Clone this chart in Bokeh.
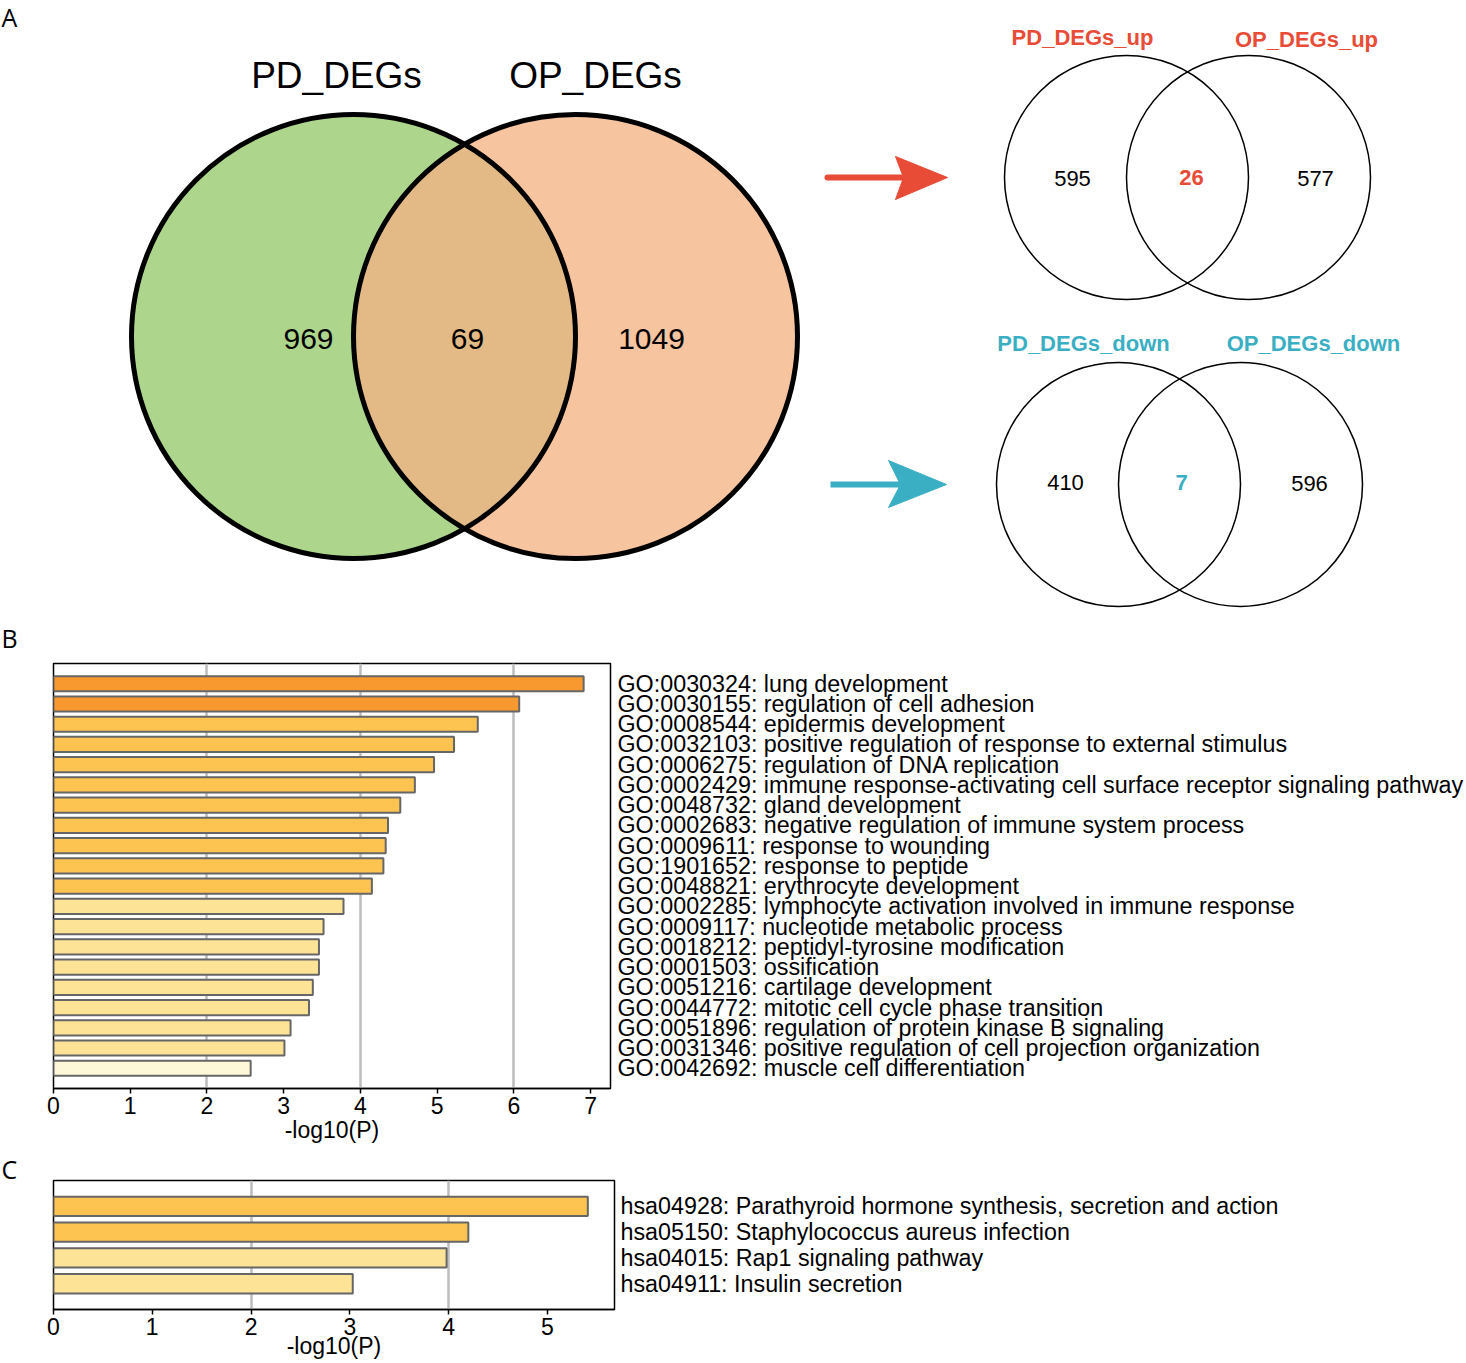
import numpy as np
from bokeh.plotting import figure
from bokeh.models import Range1d, FactorRange, FixedTicker
from bokeh.core.properties import value
from bokeh.embed import file_html
from bokeh.resources import INLINE

# ---------------- data ----------------
main_sets = ["PD_DEGs", "OP_DEGs"]
main_counts = [969, 69, 1049]          # left only, shared, right only
up_sets = ["PD_DEGs_up", "OP_DEGs_up"]
up_counts = [595, 26, 577]
down_sets = ["PD_DEGs_down", "OP_DEGs_down"]
down_counts = [410, 7, 596]

go_terms = [
    "GO:0030324: lung development",
    "GO:0030155: regulation of cell adhesion",
    "GO:0008544: epidermis development",
    "GO:0032103: positive regulation of response to external stimulus",
    "GO:0006275: regulation of DNA replication",
    "GO:0002429: immune response-activating cell surface receptor signaling pathway",
    "GO:0048732: gland development",
    "GO:0002683: negative regulation of immune system process",
    "GO:0009611: response to wounding",
    "GO:1901652: response to peptide",
    "GO:0048821: erythrocyte development",
    "GO:0002285: lymphocyte activation involved in immune response",
    "GO:0009117: nucleotide metabolic process",
    "GO:0018212: peptidyl-tyrosine modification",
    "GO:0001503: ossification",
    "GO:0051216: cartilage development",
    "GO:0044772: mitotic cell cycle phase transition",
    "GO:0051896: regulation of protein kinase B signaling",
    "GO:0031346: positive regulation of cell projection organization",
    "GO:0042692: muscle cell differentiation",
]
go_logp = [6.91, 6.07, 5.53, 5.22, 4.96, 4.71, 4.52, 4.36, 4.33, 4.30,
           4.15, 3.78, 3.52, 3.46, 3.46, 3.38, 3.33, 3.09, 3.01, 2.57]

kegg_terms = [
    "hsa04928: Parathyroid hormone synthesis, secretion and action",
    "hsa05150: Staphylococcus aureus infection",
    "hsa04015: Rap1 signaling pathway",
    "hsa04911: Insulin secretion",
]
kegg_logp = [5.41, 4.20, 3.98, 3.03]

panel_letters = ["A", "B", "C"]

# ---------------- styles ----------------
FONT_NAME = "Liberation Sans"
LETTER_FONT_NAME = "Open Sans"
FONT = value(FONT_NAME)
LETTER_FONT = value(LETTER_FONT_NAME)
RED = "#E84B36"
TEAL = "#3AAFC3"
GREEN = "#ADD68C"
SALMON = "#F7C4A0"
OVERLAP = "#E3B985"
go_colors = ["#F7992E"] * 2 + ["#FDC452"] * 9 + ["#FCE396"] * 8 + ["#FEF8D9"]
kegg_colors = ["#FDC452"] * 2 + ["#FCE396"] * 2

W = 1466
HA = 656

# ---------------- panel A: Venn diagrams ----------------
pA = figure(width=W, height=HA, x_range=Range1d(0, W), y_range=Range1d(HA, 0),
            x_axis_type=None, y_axis_type=None, toolbar_location=None,
            output_backend="svg", min_border=0, outline_line_color=None)
pA.grid.visible = False


def lens(x1, x2, y, r, n=120):
    d = x2 - x1
    th = np.arccos((d / 2) / r)
    t1 = np.linspace(-th, th, n)
    t2 = np.linspace(np.pi - th, np.pi + th, n)
    xs = np.concatenate([x1 + r * np.cos(t1), x2 + r * np.cos(t2)])
    ys = np.concatenate([y + r * np.sin(t1), y + r * np.sin(t2)])
    return xs, ys


# big Venn
BX1, BX2, BY, BR = 353, 575, 336, 222
pA.circle(x=[BX1], y=[BY], radius=BR, fill_color=GREEN, line_color=None)
pA.circle(x=[BX2], y=[BY], radius=BR, fill_color=SALMON, line_color=None)
lx, ly = lens(BX1, BX2, BY, BR)
pA.patch(lx, ly, fill_color=OVERLAP, line_color=None)
pA.circle(x=[BX1, BX2], y=[BY, BY], radius=BR, fill_color=None, line_color="black", line_width=5)
pA.text(x=[336, 595], y=[75, 75], text=main_sets, text_font=FONT, text_font_size=value("37px"),
        text_align="center", text_baseline="middle", text_color="black")
pA.text(x=[308, 467, 651], y=[338, 338, 338], text=[str(c) for c in main_counts], text_font=FONT,
        text_font_size=value("30px"), text_align="center", text_baseline="middle", text_color="black")


def small_venn(x1, x2, y, r, names, name_xy, counts, count_xy, color):
    pA.circle(x=[x1, x2], y=[y, y], radius=r, fill_color=None, line_color="black", line_width=1.5)
    pA.text(x=[name_xy[0][0], name_xy[1][0]], y=[name_xy[0][1], name_xy[1][1]], text=names,
            text_font=FONT, text_font_size=value("22px"), text_font_style="bold",
            text_align="center", text_baseline="middle", text_color=color)
    pA.text(x=[count_xy[0][0], count_xy[2][0]], y=[count_xy[0][1], count_xy[2][1]],
            text=[str(counts[0]), str(counts[2])], text_font=FONT, text_font_size=value("22px"),
            text_align="center", text_baseline="middle", text_color="black")
    pA.text(x=[count_xy[1][0]], y=[count_xy[1][1]], text=[str(counts[1])], text_font=FONT,
            text_font_size=value("22px"), text_font_style="bold",
            text_align="center", text_baseline="middle", text_color=color)


small_venn(1126, 1248, 177, 122, up_sets, [(1082, 37), (1306, 39)], up_counts,
           [(1072, 178), (1191, 177), (1315, 178)], RED)
small_venn(1118, 1240, 484, 122, down_sets, [(1083, 343), (1313, 343)], down_counts,
           [(1065, 482), (1181, 482), (1309, 483)], TEAL)

# arrows
pA.segment(x0=[827], y0=[177], x1=[905], y1=[177], line_color=RED, line_width=6, line_cap="round")
pA.patch([947, 895, 903, 895], [177, 156, 177, 199], fill_color=RED, line_color=RED, line_width=1)
pA.segment(x0=[830], y0=[484], x1=[900], y1=[484], line_color=TEAL, line_width=6, line_cap="butt")
pA.patch([946, 888, 900, 888], [484, 460, 484, 507], fill_color=TEAL, line_color=TEAL, line_width=1)

# panel letters A and B (B sits just above the bar chart)
pA.text(x=[1, 1], y=[16, 637], text=panel_letters[:2], text_font=LETTER_FONT, text_font_size=value("25px"),
        text_align="left", text_baseline="middle", text_color="black")


# ---------------- panels B and C: bar charts ----------------
def bar_panel(terms, vals, colors, xmax, ticks, grid_ticks, frame_w, top, frame_h, bottom, pad,
              letter, letter_standoff, label_standoff, label_gap):
    left = 53
    p = figure(width=W, height=top + frame_h + bottom,
               x_range=Range1d(0, xmax),
               y_range=FactorRange(factors=terms[::-1], range_padding=pad),
               y_axis_location="right", toolbar_location=None, output_backend="svg",
               min_border_left=left, min_border_right=W - left - frame_w,
               min_border_top=top, min_border_bottom=bottom,
               outline_line_color="black", outline_line_width=1.5, outline_line_alpha=1)
    p.hbar(y=terms, left=0, right=vals, height=0.75, fill_color=colors,
           line_color="#666666", line_width=2)
    if letter:
        p.title.text = letter
        p.title.align = "left"
        p.title.offset = -left + 1
        p.title.standoff = letter_standoff
        p.title.text_font = LETTER_FONT_NAME
        p.title.text_font_size = "25px"
        p.title.text_font_style = "normal"
        p.title.text_color = "black"
    else:
        p.title.visible = False
    p.ygrid.visible = False
    p.xgrid.ticker = FixedTicker(ticks=grid_ticks)
    p.xgrid.grid_line_color = "#BDBDBD"
    p.xgrid.grid_line_width = 2.5
    ax = p.xaxis[0]
    ax.ticker = FixedTicker(ticks=ticks)
    ax.axis_line_color = "black"
    ax.axis_line_width = 1.5
    ax.major_tick_line_color = "black"
    ax.major_tick_line_width = 1.5
    ax.major_tick_out = 5
    ax.major_tick_in = 0
    ax.minor_tick_line_color = None
    ax.major_label_standoff = 3
    ax.major_label_text_font = FONT_NAME
    ax.major_label_text_font_size = "23px"
    ax.major_label_text_color = "black"
    ax.axis_label = "-log10(P)"
    ax.axis_label_text_font = FONT_NAME
    ax.axis_label_text_font_size = "23px"
    ax.axis_label_text_font_style = "normal"
    ax.axis_label_text_color = "black"
    ax.axis_label_standoff = label_gap
    ay = p.yaxis[0]
    ay.axis_line_color = None
    ay.major_tick_line_color = None
    ay.minor_tick_line_color = None
    ay.major_tick_out = 0
    ay.major_tick_in = 0
    ay.major_label_standoff = label_standoff
    ay.major_label_text_font = FONT_NAME
    ay.major_label_text_font_size = "23.3px"
    ay.major_label_text_color = "black"
    return p


pB = bar_panel(go_terms, go_logp, go_colors, 7.26, list(range(8)), [2, 4, 6],
               558, 663 - HA, 425, 62, 0.05, None, 0, 7, 0)
pC = bar_panel(kegg_terms, kegg_logp, kegg_colors, 5.68, list(range(6)), [2, 4],
               561, 30, 129, 54, 0.25, panel_letters[2], -11, 6, -5)

open("out.html", "w").write(file_html((pA, pB, pC), INLINE))
